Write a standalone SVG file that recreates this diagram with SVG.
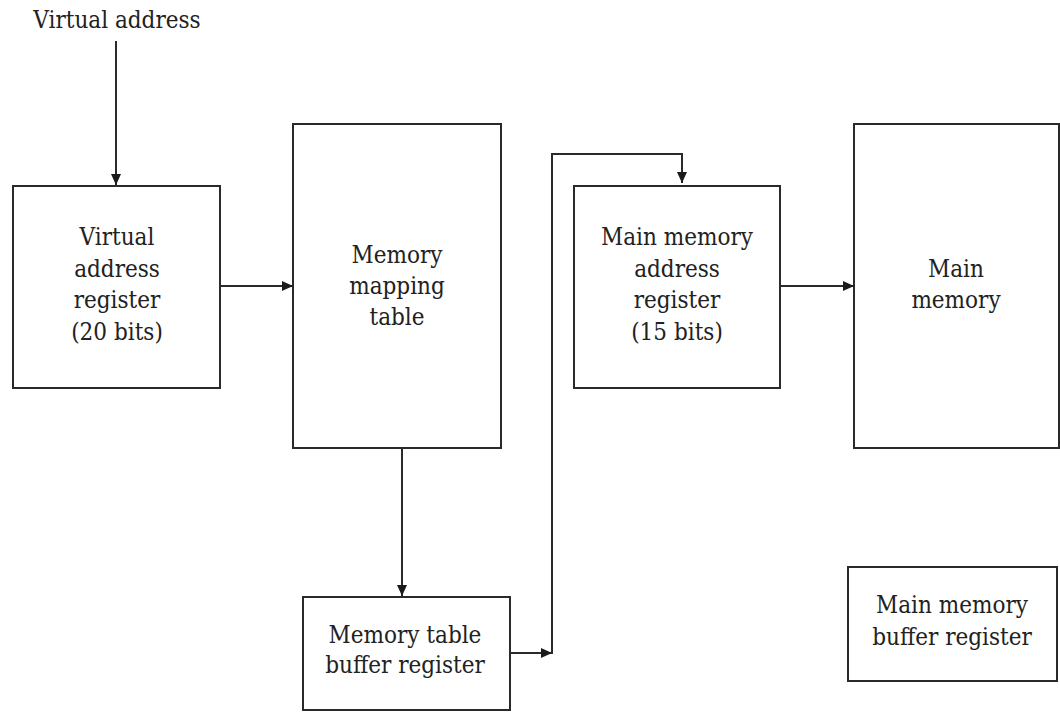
<svg xmlns="http://www.w3.org/2000/svg" width="1060" height="713" viewBox="0 0 1060 713">
<style>
.box{fill:#fff;stroke:#2a2a2a;stroke-width:2}
.lbl{font-family:"DejaVu Serif Condensed","DejaVu Serif","Liberation Serif",serif;font-stretch:condensed;font-size:24px;fill:#222;text-anchor:middle}
.conn{fill:none;stroke:#2a2a2a;stroke-width:2}
</style>
<defs>
<marker id="ah" markerUnits="userSpaceOnUse" markerWidth="12" markerHeight="12" refX="11" refY="6" orient="auto">
<path d="M0,1 L11,6 L0,11 z" fill="#1a1a1a"/>
</marker>
</defs>
<rect width="1060" height="713" fill="#fff"/>
<g id="input-label">
<text class="lbl" x="117" y="28">Virtual address</text>
</g>
<g id="virtual-address-register">
<rect class="box" x="13" y="186" width="207" height="202"/>
<text class="lbl" x="117" y="245">Virtual</text>
<text class="lbl" x="117" y="277">address</text>
<text class="lbl" x="117" y="308">register</text>
<text class="lbl" x="117" y="340">(20 bits)</text>
</g>
<g id="memory-mapping-table">
<rect class="box" x="293" y="124" width="208" height="324"/>
<text class="lbl" x="397" y="263">Memory</text>
<text class="lbl" x="397" y="294">mapping</text>
<text class="lbl" x="397" y="325">table</text>
</g>
<g id="memory-table-buffer-register">
<rect class="box" x="303" y="597" width="207" height="113"/>
<text class="lbl" x="405" y="643">Memory table</text>
<text class="lbl" x="405" y="673">buffer register</text>
</g>
<g id="main-memory-address-register">
<rect class="box" x="574" y="186" width="206" height="202"/>
<text class="lbl" x="677" y="245">Main memory</text>
<text class="lbl" x="677" y="277">address</text>
<text class="lbl" x="677" y="308">register</text>
<text class="lbl" x="677" y="340">(15 bits)</text>
</g>
<g id="main-memory">
<rect class="box" x="854" y="124" width="205" height="324"/>
<text class="lbl" x="956" y="277">Main</text>
<text class="lbl" x="956" y="308">memory</text>
</g>
<g id="main-memory-buffer-register">
<rect class="box" x="848" y="567" width="209" height="114"/>
<text class="lbl" x="952" y="613">Main memory</text>
<text class="lbl" x="952" y="645">buffer register</text>
</g>
<g id="connectors">
<path class="conn" d="M116,41 V185" marker-end="url(#ah)"/>
<path class="conn" d="M220,286 H293" marker-end="url(#ah)"/>
<path class="conn" d="M402,448 V596" marker-end="url(#ah)"/>
<path class="conn" d="M510,653 H552" marker-end="url(#ah)"/>
<path class="conn" d="M552,654 V154 H682 V183" marker-end="url(#ah)"/>
<path class="conn" d="M780,286 H854" marker-end="url(#ah)"/>
</g>
</svg>
